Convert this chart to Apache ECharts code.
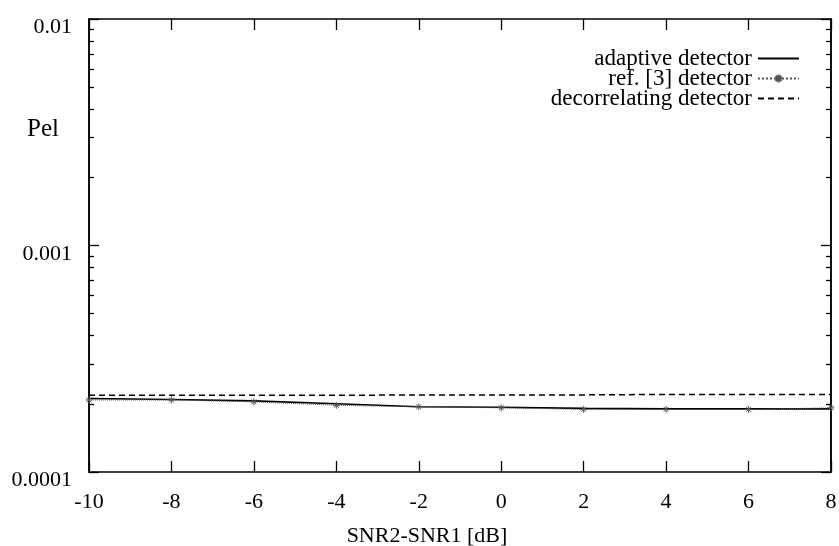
<!DOCTYPE html>
<html>
<head>
<meta charset="utf-8">
<script src="https://cdn.jsdelivr.net/npm/echarts@6/dist/echarts.min.js"></script>
<style>
  html, body { margin: 0; padding: 0; background: #fff; }
  #main { width: 839px; height: 546px; }
</style>
</head>
<body>
<div id="main"></div>
<script>
// 横轴 SNR2-SNR1 [dB]
var snrDiff = [-10, -8, -6, -4, -2, 0, 2, 4, 6, 8];
// 三条曲线 Pe1
var adaptive = [2.11e-4, 2.09e-4, 2.06e-4, 2.00e-4, 1.94e-4, 1.93e-4, 1.91e-4, 1.90e-4, 1.90e-4, 1.90e-4];
var ref3 = [2.08e-4, 2.08e-4, 2.04e-4, 1.97e-4, 1.94e-4, 1.92e-4, 1.89e-4, 1.89e-4, 1.89e-4, 1.92e-4];
var decorrelating = [2.18e-4, 2.18e-4, 2.18e-4, 2.18e-4, 2.19e-4, 2.19e-4, 2.19e-4, 2.20e-4, 2.20e-4, 2.20e-4];
// 纵轴刻度
var yMajor = [0.0001, 0.001, 0.01];
var yMajorLabels = ['0.0001', '0.001', '0.01'];
var yMinor = [2e-4, 3e-4, 4e-4, 5e-4, 6e-4, 7e-4, 8e-4, 9e-4,
              2e-3, 3e-3, 4e-3, 5e-3, 6e-3, 7e-3, 8e-3, 9e-3];

var chart = echarts.init(document.getElementById('main'));
var font = 'Liberation Serif';

function pair(a, b) {
  return a.map(function (v, i) { return [v, b[i]]; });
}

function yAx(pos, ticks, len, withLabel) {
  return {
    type: 'log',
    logBase: 10,
    min: 0.0001,
    max: 0.01,
    position: pos,
    splitLine: { show: false },
    axisLine: { show: true, onZero: false, lineStyle: { color: '#000', width: 1.5 } },
    axisTick: { show: true, inside: true, length: len, customValues: ticks, lineStyle: { color: '#000', width: 1.3 } },
    axisLabel: withLabel ? {
      show: true,
      customValues: yMajor,
      margin: 17,
      verticalAlign: 'top',
      lineHeight: 17,
      fontFamily: font,
      fontSize: 22,
      color: '#000',
      formatter: function (v) {
        var i = yMajor.findIndex(function (m) { return Math.abs(m - v) / m < 1e-6; });
        return i >= 0 ? yMajorLabels[i] : '';
      }
    } : { show: false }
  };
}

function xAx(pos, withLabel) {
  return {
    type: 'value',
    min: -10,
    max: 8,
    interval: 2,
    position: pos,
    splitLine: { show: false },
    axisLine: { show: true, onZero: false, lineStyle: { color: '#000', width: 1.5 } },
    axisTick: { show: true, inside: true, length: 11, lineStyle: { color: '#000', width: 1.3 } },
    axisLabel: withLabel ? { show: true, margin: 19, fontFamily: font, fontSize: 22, color: '#000' } : { show: false },
    name: withLabel ? 'SNR2-SNR1 [dB]' : '',
    nameLocation: 'middle',
    nameGap: 53,
    nameTextStyle: { fontFamily: font, fontSize: 22, color: '#000', padding: [0, 66, 0, 0] }
  };
}

var option = {
  animation: false,
  backgroundColor: '#fff',
  grid: { left: 89, right: 8, top: 19, bottom: 74, containLabel: false, outerBoundsMode: 'none' },
  xAxis: [xAx('bottom', true), xAx('top', false)],
  yAxis: [
    yAx('left', yMinor, 5, true),
    yAx('left', yMajor, 10, false),
    yAx('right', yMinor, 5, false),
    yAx('right', yMajor, 10, false)
  ],
  legend: {
    orient: 'vertical',
    right: 34,
    top: 42,
    align: 'right',
    itemWidth: 41,
    itemHeight: 10,
    itemGap: -3,
    textStyle: { fontFamily: font, fontSize: 23, color: '#000', padding: [0, 1, 0, 0] },
    data: [
      { name: 'adaptive detector', itemStyle: { opacity: 0 } },
      { name: 'ref. [3] detector' },
      { name: 'decorrelating detector', itemStyle: { opacity: 0 } }
    ]
  },
  graphic: [
    { type: 'text', left: 27, top: 117, style: { text: 'Pel', font: '25px "Liberation Serif"', fill: '#000' } }
  ],
  series: [
    {
      name: 'adaptive detector',
      type: 'line',
      data: pair(snrDiff, adaptive),
      symbol: 'none',
      lineStyle: { color: '#000', width: 1.6, type: 'solid' },
      itemStyle: { color: '#000' }
    },
    {
      name: 'ref. [3] detector',
      type: 'line',
      data: pair(snrDiff, ref3),
      symbol: 'path://M5,0L5,10M0,5L10,5M1.5,1.5L8.5,8.5M8.5,1.5L1.5,8.5',
      symbolSize: 7,
      lineStyle: { color: '#555', width: 1, type: 'dotted' },
      itemStyle: { color: 'none', borderColor: '#555', borderWidth: 1 }
    },
    {
      name: 'decorrelating detector',
      type: 'line',
      data: pair(snrDiff, decorrelating),
      symbol: 'none',
      lineStyle: { color: '#000', width: 1.5, type: [6, 4] },
      itemStyle: { color: '#000' }
    }
  ]
};

chart.setOption(option);
</script>
</body>
</html>
